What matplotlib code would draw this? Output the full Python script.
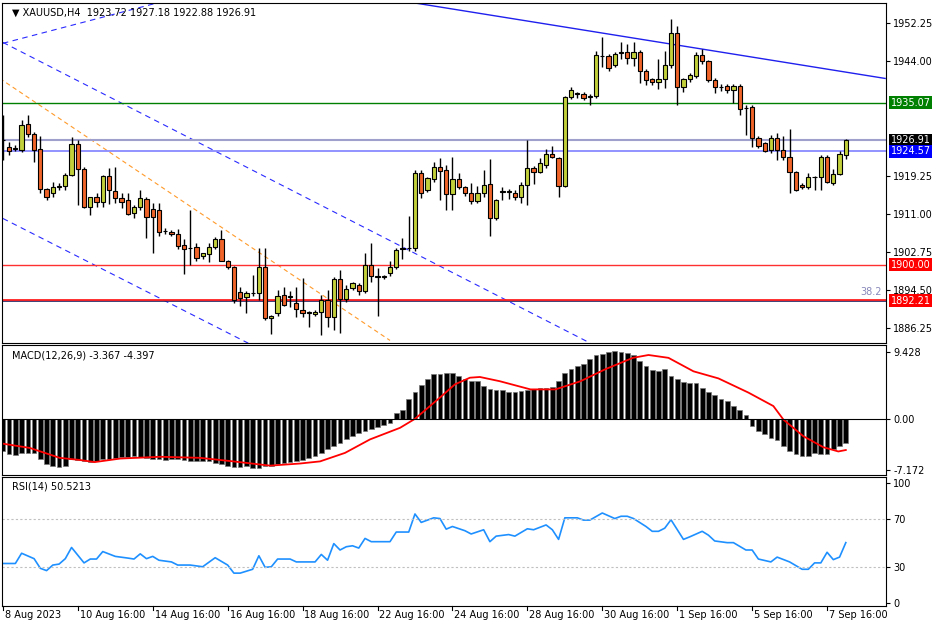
import numpy as np
import matplotlib
matplotlib.use('Agg')
from matplotlib import pyplot as plt

# ---- price candles (H4) ----
opens = [1926.9,1925.4,1925.0,1924.8,1930.4,1928.2,1925.0,1916.3,1915.5,1916.8,
         1917.0,1919.3,1926.1,1920.6,1912.4,1914.6,1913.5,1919.1,1916.0,1914.4,
         1913.9,1911.1,1912.4,1914.2,1912.0,1911.8,1907.2,1907.0,1906.6,1904.2,
         1903.5,1903.8,1901.9,1902.2,1903.8,1905.5,1900.7,1899.4,1894.0,1892.9,
         1893.8,1893.8,1899.4,1888.4,1889.5,1893.4,1893.0,1891.8,1890.1,1889.5,
         1889.3,1889.7,1892.3,1888.6,1897.0,1892.5,1895.0,1895.7,1894.2,1900.0,
         1897.4,1897.3,1898.2,1899.5,1903.3,1903.5,1903.5,1919.8,1916.2,1918.5,
         1921.1,1920.4,1915.2,1918.5,1916.7,1915.6,1913.8,1915.4,1917.4,1910.0,
         1915.7,1915.7,1915.6,1914.6,1917.2,1920.9,1920.1,1921.5,1923.9,1923.0,
         1917.0,1936.2,1937.0,1936.9,1936.2,1936.6,1945.1,1945.1,1943.3,1945.8,
         1946.0,1944.7,1946.0,1941.9,1940.1,1939.5,1940.1,1943.1,1950.1,1938.4,
         1940.1,1940.8,1945.3,1944.0,1939.9,1938.4,1938.6,1937.9,1938.6,1933.85,
         1934.1,1927.4,1926.3,1924.8,1927.4,1924.8,1923.3,1920.0,1917.2,1916.8,
         1918.9,1918.9,1923.3,1917.6,1919.6,1923.72]
highs = [1932.3,1926.5,1925.8,1931.3,1932.3,1928.8,1927.8,1916.6,1917.85,1917.6,
         1919.8,1927.6,1927.0,1921.1,1914.6,1915.45,1919.35,1920.9,1921.1,1915.45,
         1915.45,1913.0,1916.1,1914.6,1913.3,1913.3,1908.0,1907.5,1907.7,1905.5,
         1911.8,1904.6,1902.6,1904.6,1906.0,1907.45,1901.0,1899.6,1895.1,1894.2,
         1897.7,1903.5,1903.5,1889.0,1894.5,1895.1,1894.2,1895.1,1897.05,1890.0,
         1890.2,1893.4,1894.5,1897.3,1898.8,1895.5,1896.2,1896.0,1902.45,1904.6,
         1899.2,1897.8,1900.7,1903.5,1905.7,1910.5,1920.45,1920.45,1918.9,1922.2,
         1923.0,1921.5,1923.2,1919.8,1917.0,1917.6,1917.0,1920.45,1922.8,1914.2,
         1916.8,1916.4,1916.1,1917.85,1926.9,1921.3,1923.0,1925.0,1925.6,1923.3,
         1936.6,1938.4,1937.3,1937.3,1937.0,1946.3,1949.3,1945.5,1946.0,1948.2,
         1947.8,1948.2,1946.5,1942.3,1940.5,1944.5,1946.3,1953.1,1951.6,1940.5,
         1941.5,1946.0,1946.6,1944.3,1940.3,1939.0,1939.0,1939.0,1939.0,1934.5,
         1934.5,1927.8,1926.6,1928.0,1928.45,1927.8,1929.3,1920.2,1917.6,1919.8,
         1919.1,1923.7,1923.7,1920.65,1924.6,1927.18]
lows = [1922.6,1923.7,1924.6,1924.3,1927.6,1922.2,1915.5,1913.95,1914.6,1916.2,
        1916.2,1919.1,1912.9,1912.2,1910.7,1912.4,1912.4,1913.1,1913.3,1912.2,
        1910.7,1910.0,1911.8,1905.7,1902.45,1906.15,1906.6,1906.3,1903.3,1897.9,
        1899.9,1900.7,1901.2,1900.5,1903.3,1900.7,1899.0,1891.65,1891.0,1889.5,
        1893.3,1892.3,1888.0,1884.95,1888.85,1891.0,1890.8,1888.6,1888.6,1886.45,
        1888.9,1884.7,1886.45,1885.8,1885.15,1892.0,1894.5,1893.5,1893.8,1896.2,
        1888.85,1896.8,1897.6,1899.0,1901.2,1902.9,1903.0,1914.4,1915.7,1917.8,
        1913.95,1911.8,1911.8,1916.4,1914.8,1913.1,1913.3,1914.6,1906.2,1909.6,
        1913.95,1914.2,1913.95,1913.3,1912.9,1917.4,1919.8,1921.0,1923.0,1914.6,
        1916.8,1935.8,1936.0,1935.6,1934.5,1936.0,1942.7,1941.9,1942.7,1944.5,
        1943.5,1942.9,1939.3,1938.9,1938.9,1938.0,1938.2,1942.6,1934.5,1937.3,
        1939.5,1940.3,1943.5,1939.5,1937.1,1937.6,1937.1,1934.9,1932.3,1928.0,
        1925.4,1925.2,1924.3,1924.1,1922.6,1922.6,1915.45,1915.9,1916.4,1916.4,
        1916.1,1916.1,1917.6,1917.2,1919.3,1922.88]
closes = [1926.9,1924.7,1925.0,1930.2,1928.2,1924.8,1916.3,1914.6,1916.75,1917.0,
          1919.3,1926.1,1920.6,1912.4,1914.6,1913.5,1919.1,1916.1,1914.4,1913.5,
          1910.9,1912.4,1914.4,1910.3,1910.3,1907.0,1907.25,1906.6,1904.0,1903.3,
          1903.5,1901.4,1902.5,1903.8,1905.5,1900.7,1899.4,1892.3,1892.7,1893.8,
          1893.8,1899.4,1888.4,1888.8,1893.2,1891.2,1893.0,1890.3,1889.5,1889.5,
          1889.8,1892.3,1888.6,1897.0,1892.5,1894.7,1896.0,1894.2,1899.9,1897.5,
          1897.4,1897.3,1899.5,1903.2,1903.7,1903.5,1919.8,1915.4,1918.7,1921.1,
          1920.2,1915.2,1918.5,1916.8,1915.4,1913.8,1915.6,1917.2,1910.0,1913.9,
          1915.7,1915.7,1914.6,1917.2,1920.9,1920.0,1922.0,1923.9,1923.3,1917.0,
          1936.2,1937.7,1936.9,1936.0,1936.6,1945.3,1945.1,1942.5,1945.6,1945.8,
          1944.7,1946.0,1941.9,1940.0,1939.5,1940.1,1943.1,1950.1,1938.4,1940.1,
          1941.0,1945.3,1944.0,1939.9,1938.4,1938.4,1937.9,1938.6,1933.6,1933.85,
          1927.4,1925.6,1924.6,1927.4,1924.8,1923.3,1920.0,1916.1,1916.8,1919.0,
          1918.9,1923.3,1917.8,1919.6,1923.9,1926.91]

# ---- MACD histogram / signal ----
macd_hist = [-4.55,-5.0,-5.1,-4.8,-4.8,-4.8,-5.6,
             -6.4,-6.7,-6.8,-6.6,
             -5.7,-5.8,-6.0,-6.1,-6.0,
             -5.6,-5.6,-5.5,-5.4,-5.35,-5.3,-5.4,-5.5,-5.6,-5.7,-5.8,-5.6,-5.6,
             -5.8,-6.0,-6.0,-5.9,-6.0,-6.2,-6.4,-6.6,
             -6.8,-6.8,-6.7,-6.9,-6.9,-6.7,-6.6,-6.3,
             -6.2,-6.1,-6.0,-5.8,-5.5,-5.2,
             -4.8,-4.3,-3.85,-3.4,-2.8,-2.45,-2.0,-1.75,-1.4,-1.13,-0.8,-0.56,
             0.85,1.2,2.8,3.8,4.8,5.6,6.3,
             6.3,6.4,6.4,6.0,5.6,5.3,5.3,4.6,4.25,4.1,
             4.05,3.8,3.8,3.9,4.1,4.25,4.4,4.4,4.5,5.3,
             6.4,7.0,7.4,7.7,8.5,9.0,9.2,9.4,9.5,9.45,
             9.3,9.0,8.1,7.5,6.9,6.8,7.0,6.1,5.6,5.2,
             5.1,5.0,4.4,3.8,3.3,2.8,2.5,1.8,1.2,0.6,-0.95,
             -1.75,-2.1,-2.7,-3.0,-3.8,-4.5,-5.0,-5.2,-5.3,-4.8,
             -4.95,-4.95,-4.3,-3.8,-3.367]
sig_idx = [0,4.3,9.1,12.3,14.7,18.8,25.2,31.6,36.9,42.8,47.6,50.8,54.8,58.8,63.6,66,70,72.4,74.8,76.4,79.6,84.5,88.5,92.5,96.5,100.9,103.4,106.6,110.6,114.6,119.4,123.4,125,128.2,131.4,133.8,135]
sig_val = [-3.5,-4.1,-5.5,-5.8,-6.1,-5.6,-5.35,-5.5,-6.0,-6.6,-6.3,-6.0,-4.8,-2.9,-1.27,0.0,3.0,4.86,5.8,5.9,5.3,4.15,4.15,5.3,7.0,8.6,9.0,8.6,6.7,5.7,3.7,1.8,-0.1,-2.45,-4.0,-4.6,-4.397]

# ---- RSI(14) ----
rsi_idx = [0,2,3,5,6,7,8,9,10,11,13,14,15,16,18,20,21,22,23,24,25,27,28,30,32,34,36,37,38,40,41,42,43,44,46,47,50,51,52,53,54,55,56,57,58,59,62,63,65,66,67,69,70,71,72,74,75,77,78,79,81,82,84,85,87,88,89,90,92,93,94,96,98,99,100,101,103,104,105,106,107,109,110,112,113,114,116,117,119,120,121,123,124,126,128,129,130,131,132,133,134,135]
rsi_val = [33.2,33.2,41.7,37.2,29.2,27.3,31.9,32.7,37.2,46.5,33.7,36.9,36.9,43.1,39.1,37.7,36.9,41.2,37.2,39.1,35.9,34.5,31.9,31.9,30.5,38.0,31.9,25.2,25.2,28.4,39.6,30.0,30.5,36.9,36.9,34.5,34.5,40.7,35.9,49.7,44.4,47.1,47.9,46.0,54.0,51.3,51.3,59.3,59.3,74.3,67.3,71.1,70.5,61.7,63.9,60.4,57.7,61.2,51.3,55.9,57.2,55.9,62.0,61.2,65.2,61.2,53.2,71.1,71.1,69.2,69.2,75.1,70.5,72.4,72.4,70.5,63.9,59.9,59.9,62.5,69.5,53.2,55.3,59.9,56.7,51.9,50.5,50.5,44.4,44.4,36.9,34.5,38.5,34.5,28.4,28.4,33.7,33.7,42.5,36.4,38.5,50.52]

# levels and objects
lvl_green = 1935.07
lvl_bid = 1926.91
lvl_blue = 1924.57
lvl_red1 = 1900.00
lvl_red2 = 1892.21
price_ticks = [1952.25, 1944.00, 1919.25, 1911.00, 1902.75, 1894.50, 1886.25]
blue_up = [(0, 1947.9), (26.3, 1957.2)]
blue_ch1 = [(0, 1948.1), (94.1, 1883.0)]
blue_ch2 = [(0, 1910.0), (39.3, 1883.0)]
orange_ch = [(-0.5, 1940.3), (62, 1883.6)]
blue_top = [(65.2, 1956.8), (141.3, 1940.3)]
date_labels = ['8 Aug 2023', '10 Aug 16:00', '14 Aug 16:00', '16 Aug 16:00', '18 Aug 16:00',
               '22 Aug 16:00', '24 Aug 16:00', '28 Aug 16:00', '30 Aug 16:00', '1 Sep 16:00',
               '5 Sep 16:00', '7 Sep 16:00']

plt.rcParams['font.family'] = ['DejaVu Sans']
FS = 7
xl = (-0.16, 141.5)

fig = plt.figure(figsize=(9.36, 6.24), dpi=100)
ax1 = fig.add_axes([0.002, 0.450, 0.945, 0.545])
ax2 = fig.add_axes([0.002, 0.239, 0.945, 0.208])
ax3 = fig.add_axes([0.002, 0.029, 0.945, 0.207])

for a in (ax1, ax2, ax3):
    a.set_xlim(*xl)
    a.yaxis.tick_right()
    a.tick_params(axis='y', labelsize=FS, length=3, pad=2)
    a.tick_params(axis='x', length=0, labelbottom=False)
    for s in a.spines.values():
        s.set_linewidth(0.8)

# --- price panel ---
n = len(closes)
idx = np.arange(n)
o = np.array(opens); c = np.array(closes)
h = np.array(highs); l = np.array(lows)
up = c >= o
ax1.vlines(idx, l, h, color='black', lw=1, zorder=3)
body = np.where(np.abs(c - o) < 0.15, 0.15, np.abs(c - o))
ax1.bar(idx, body, 0.68, bottom=np.minimum(o, c), color=np.where(up, '#c2d13b', '#f0642a'),
        edgecolor='black', linewidth=0.8, zorder=4)

for pts, col, ls, lw in [(blue_up, '#2a2aff', (0, (5, 4)), 0.8), (blue_ch1, '#2a2aff', (0, (5, 4)), 0.8),
                         (blue_ch2, '#2a2aff', (0, (5, 4)), 0.8), (orange_ch, '#ff9a2a', (0, (4, 3)), 0.8),
                         (blue_top, '#2020ee', '-', 1.0)]:
    (x0, y0), (x1, y1) = pts
    ax1.plot([x0, x1], [y0, y1], color=col, ls=ls, lw=lw, zorder=2)

ax1.axhline(lvl_green, color='#008000', lw=1, zorder=2)
ax1.axhline(lvl_bid, color='#a0a0cc', lw=1.5, zorder=2)
ax1.axhline(lvl_blue, color='#8080ff', lw=1.2, zorder=2)
ax1.axhline(lvl_red1, color='#ff3030', lw=1, zorder=2)
ax1.axhline(lvl_red2, color='#202060', lw=1.2, zorder=2)
ax1.axhline(lvl_red2 + 0.15, color='#ff2020', lw=1.3, zorder=2)
ax1.text(140.8, lvl_red2 + 0.8, '38.2', color='#8888bb', fontsize=FS, ha='right', va='bottom')

ax1.set_ylim(1883.0, 1956.6)
ax1.set_yticks(price_ticks)
ax1.set_yticklabels(['%.2f' % v for v in price_ticks])
for val, bg in [(lvl_green, '#008000'), (lvl_bid, '#000000'), (lvl_blue, '#0000ff'),
                (lvl_red1, '#ff0000'), (lvl_red2, '#ff0000')]:
    ax1.text(1.005, val, '%.2f' % val, transform=ax1.get_yaxis_transform(), fontsize=FS,
             color='white', va='center', ha='left',
             bbox=dict(boxstyle='square,pad=0.15', fc=bg, ec='none'))
ax1.text(0.012, 0.985, '\u25bc XAUUSD,H4  1923.72 1927.18 1922.88 1926.91', transform=ax1.transAxes,
         fontsize=FS, va='top', ha='left')

# --- MACD panel ---
ax2.bar(np.arange(len(macd_hist)), macd_hist, 0.75, color='black', edgecolor='#777777', linewidth=0.5)
ax2.plot(sig_idx, sig_val, color='red', lw=1.3)
ax2.axhline(0, color='black', lw=0.8)
ax2.set_ylim(-7.9, 10.4)
ax2.set_yticks([9.428, 0.0, -7.172])
ax2.set_yticklabels(['9.428', '0.00', '-7.172'])
ax2.text(0.012, 0.96, 'MACD(12,26,9) -3.367 -4.397', transform=ax2.transAxes, fontsize=FS, va='top')

# --- RSI panel ---
ax3.plot(rsi_idx, rsi_val, color='#1e90ff', lw=1.2)
for lv in (70, 30):
    ax3.axhline(lv, color='#c0c0c0', lw=0.8, ls=(0, (2, 2)))
ax3.set_ylim(-2, 105.2)
ax3.set_yticks([100, 70, 30, 0])
ax3.text(0.012, 0.96, 'RSI(14) 50.5213', transform=ax3.transAxes, fontsize=FS, va='top')

for k, lab in enumerate(date_labels):
    xi = 12 * k
    ax3.text(xi + 0.3, -0.035, lab, transform=ax3.get_xaxis_transform(), fontsize=FS,
             va='top', ha='left')
    ax3.plot([xi, xi], [-0.03, 0], transform=ax3.get_xaxis_transform(), color='black',
             lw=0.8, clip_on=False)

fig.savefig('out.png', dpi=100)
